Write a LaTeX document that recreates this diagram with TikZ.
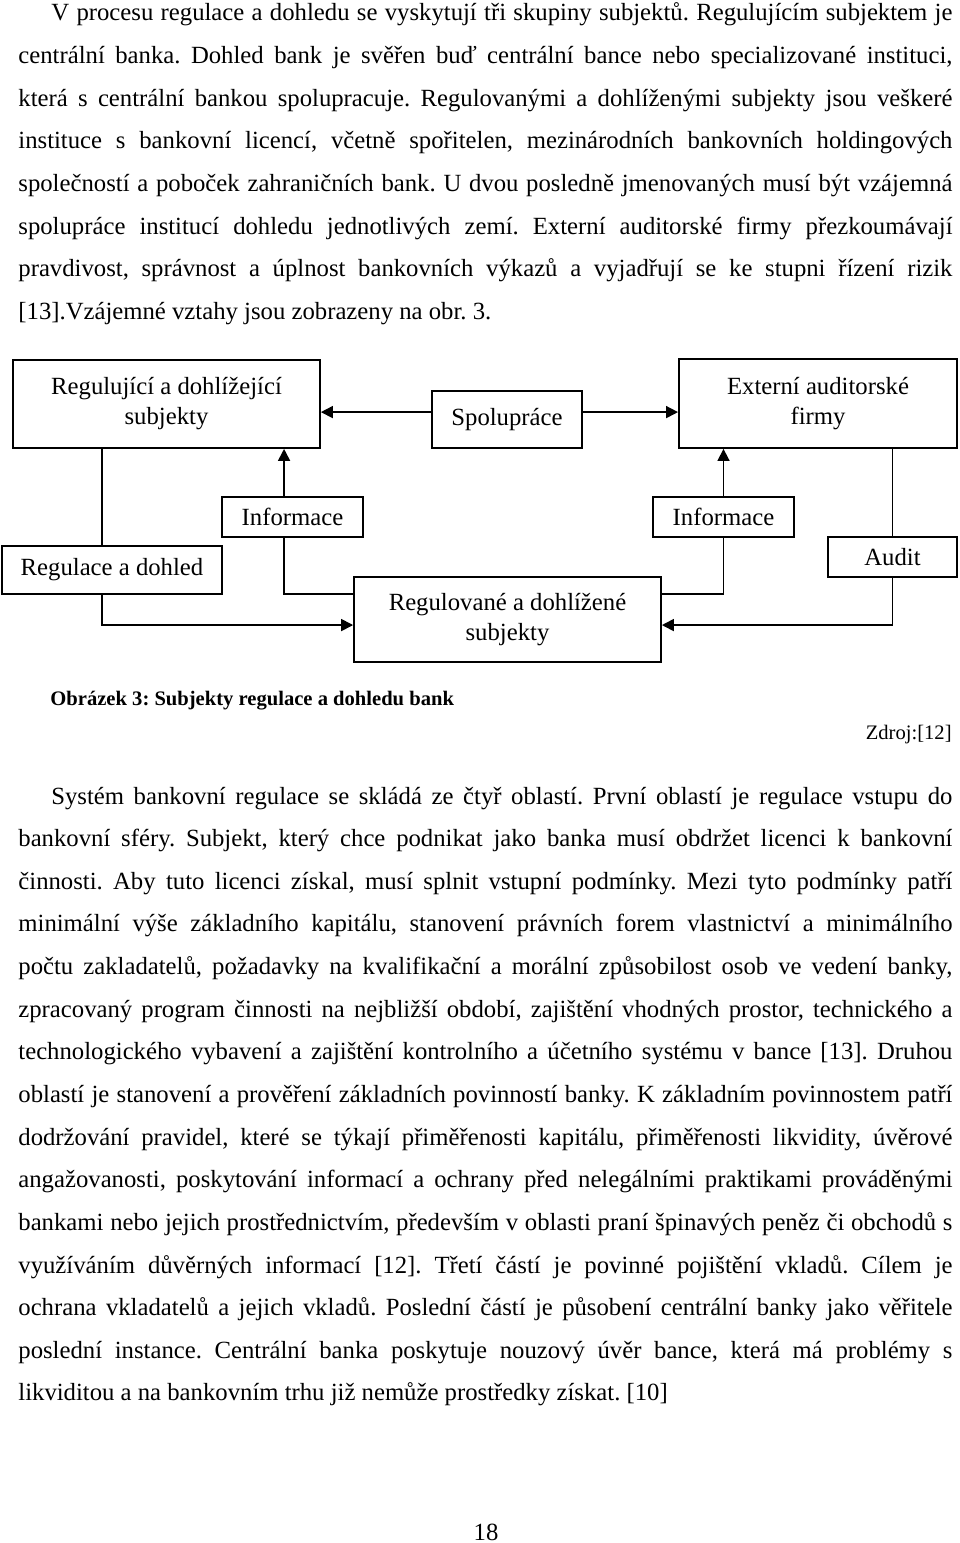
\documentclass[tikz,border=0pt]{standalone}
\usepackage{fontspec}
\setmainfont{Liberation Serif}
\usepackage{tikz}
\usetikzlibrary{positioning}
\usetikzlibrary{arrows.meta}
\frenchspacing

\tikzset{
  box/.style={draw, line width=0.9pt, inner sep=2pt, align=center,
    font=\fontsize{12}{14.6}\selectfont},
  link/.style={line width=0.8pt},
  arr/.style={link, -{Triangle[length=5.8pt,width=5.8pt]}},
  para/.style={inner sep=0pt, text width=453.5pt, align=justify,
    font=\fontsize{12}{20.7}\selectfont}
}

\begin{document}
\begin{tikzpicture}[x=0.4855pt, y=-0.4855pt]
      \useasboundingbox[fill=white] (0,0) rectangle (960,1543);

      % text above the figure
      \node[para, anchor=base west] (textA) at (18,21) {\hspace*{16pt}V procesu regulace a dohledu se vyskytují tři skupiny subjektů. Regulujícím subjektem je\linebreak
centrální banka. Dohled bank je svěřen buď centrální bance nebo specializované instituci,\linebreak
která s centrální bankou spolupracuje. Regulovanými a dohlíženými subjekty jsou veškeré\linebreak
instituce s bankovní licencí, včetně spořitelen, mezinárodních bankovních holdingových\linebreak
společností a poboček zahraničních bank. U dvou posledně jmenovaných musí být vzájemná\linebreak
spolupráce institucí dohledu jednotlivých zemí. Externí auditorské firmy přezkoumávají\linebreak
pravdivost, správnost a úplnost bankovních výkazů a vyjadřují se ke stupni řízení rizik\linebreak{}
[13].Vzájemné vztahy jsou zobrazeny na obr. 3.};

      % figure
      \node[box, minimum width=149pt, minimum height=42.7pt] (reg)    at (166.5,404)  {Regulující a dohlížející\\subjekty};
      \node[box, minimum width=72.8pt, minimum height=27.7pt] (spol)  at (507,419.5)  {Spolupráce};
      \node[box, minimum width=135pt, minimum height=43.2pt] (ext)    at (818,403.5)  {Externí auditorské\\firmy};
      \node[box, minimum width=68.5pt, minimum height=19.4pt] (infoL) at (292.5,517)  {Informace};
      \node[box, minimum width=68.5pt, minimum height=19.4pt] (infoR) at (723.5,517)  {Informace};
      \node[box, minimum width=106.8pt, minimum height=23.3pt] (dohl) at (112,570)    {Regulace a dohled};
      \node[box, minimum width=149pt, minimum height=41.3pt] (subj)   at (507.5,619.5) {Regulované a dohlížené\\subjekty};
      \node[box, minimum width=62.6pt, minimum height=19.4pt] (audit) at (892.5,557)  {Audit};

      \draw[arr] ([yshift=3.6pt]spol.west) -- ([yshift=3.6pt]spol.west -| reg.east);
      \draw[arr] ([yshift=3.6pt]spol.east) -- ([yshift=3.6pt]spol.east -| ext.west);
      \draw[link] ([xshift=-4.9pt]dohl.north) -- ([xshift=-4.9pt]dohl.north |- reg.south);
      \draw[arr] ([xshift=-4.1pt]infoL.north) -- ([xshift=-4.1pt]infoL.north |- reg.south);
      \draw[link] ([xshift=-4.1pt]infoL.south) |- ([yshift=12.4pt]subj.west);
      \draw[arr] ([xshift=-4.9pt]dohl.south) |- ([yshift=-2.7pt]subj.west);
      \draw[arr] (infoR.north) -- (infoR.north |- ext.south);
      \draw[link] (infoR.south) |- ([yshift=12.4pt]subj.east);
      \draw[link] (audit.north) -- (audit.north |- ext.south);
      \draw[arr] (audit.south) |- ([yshift=-2.7pt]subj.east);

      \node[inner sep=0pt, anchor=base west, font=\fontsize{10}{12}\selectfont\bfseries] (capt) at (50,705) {Obrázek 3: Subjekty regulace a dohledu bank};
      \node[inner sep=0pt, anchor=base east, font=\fontsize{10}{12}\selectfont] (src) at (952,739) {Zdroj:[12]};

      % text below the figure
      \node[para, anchor=base west] (textB) at (18,804) {\hspace*{16pt}Systém bankovní regulace se skládá ze čtyř oblastí. První oblastí je regulace vstupu do\linebreak
bankovní sféry. Subjekt, který chce podnikat jako banka musí obdržet licenci k bankovní\linebreak
činnosti. Aby tuto licenci získal, musí splnit vstupní podmínky. Mezi tyto podmínky patří\linebreak
minimální výše základního kapitálu, stanovení právních forem vlastnictví a minimálního\linebreak
počtu zakladatelů, požadavky na kvalifikační a morální způsobilost osob ve vedení banky,\linebreak
zpracovaný program činnosti na nejbližší období, zajištění vhodných prostor, technického a\linebreak
technologického vybavení a zajištění kontrolního a účetního systému v bance [13]. Druhou\linebreak
oblastí je stanovení a prověření základních povinností banky. K základním povinnostem patří\linebreak
dodržování pravidel, které se týkají přiměřenosti kapitálu, přiměřenosti likvidity, úvěrové\linebreak
angažovanosti, poskytování informací a ochrany před nelegálními praktikami prováděnými\linebreak
bankami nebo jejich prostřednictvím, především v oblasti praní špinavých peněz či obchodů s\linebreak
využíváním důvěrných informací [12]. Třetí částí je povinné pojištění vkladů. Cílem je\linebreak
ochrana vkladatelů a jejich vkladů. Poslední částí je působení centrální banky jako věřitele\linebreak
poslední instance. Centrální banka poskytuje nouzový úvěr bance, která má problémy s\linebreak
likviditou a na bankovním trhu již nemůže prostředky získat. [10]};

      \node[inner sep=0pt, anchor=base, font=\fontsize{12}{14}\selectfont] (page) at (486,1540) {18};
    \end{tikzpicture}
\end{document}
